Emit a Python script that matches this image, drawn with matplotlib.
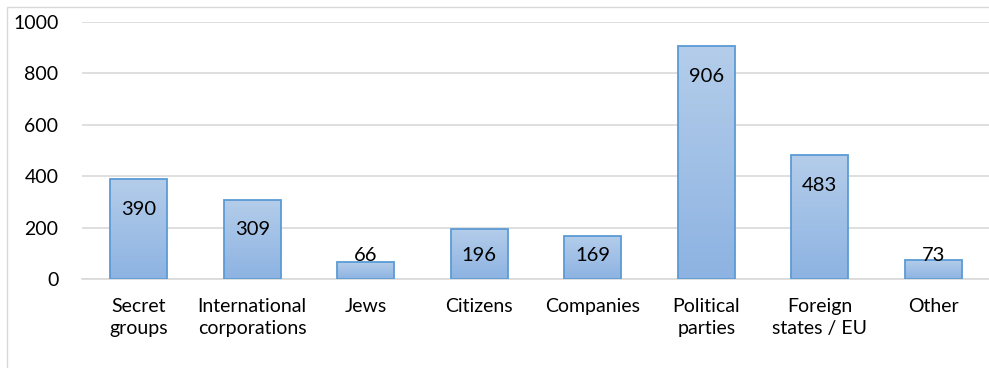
import numpy as np
import matplotlib
matplotlib.use("Agg")
import matplotlib.pyplot as plt
import matplotlib.patches as patches
from matplotlib.colors import LinearSegmentedColormap

# categories and counts
categories = ["Secret\ngroups", "International\ncorporations", "Jews", "Citizens",
              "Companies", "Political\nparties", "Foreign\nstates / EU", "Other"]
counts = [390, 309, 66, 196, 169, 906, 483, 73]
yticks = [0, 200, 400, 600, 800, 1000]

plt.rcParams['font.family'] = ['Lato', 'DejaVu Sans']

W, H = 989, 368
fig = plt.figure(figsize=(W / 100, H / 100), dpi=100)
ax = fig.add_axes([82 / W, 1 - 279 / H, 908 / W, 257 / H])

x = np.arange(len(categories))
bars = ax.bar(x, counts, width=0.5, color='none', edgecolor='#5b9bd5', linewidth=1.3, zorder=3)

# vertical gradient fill for each bar, light on top
grad = np.linspace(0, 1, 256).reshape(-1, 1)
cmap = LinearSegmentedColormap.from_list('bar', ['#8db3e2', '#b4cdea'])
for b in bars:
    x0, y0 = b.get_x(), b.get_y()
    w, h = b.get_width(), b.get_height()
    im = ax.imshow(grad, cmap=cmap, aspect='auto', origin='lower',
                   extent=[x0, x0 + w, y0, y0 + h], zorder=2)
    im.set_clip_path(b)

# labels sit inside the bar top, but never lower than a fixed floor
for xi, v in zip(x, counts):
    ty = max(v - 85, 125)
    ax.text(xi, ty, str(v), ha='center', va='top', fontsize=14.5, color='black', zorder=4)

ax.set_xlim(-0.5, len(categories) - 0.5)
ax.set_ylim(0, 1000)
ax.set_yticks(yticks)
ax.set_xticks(x)
ax.set_xticklabels(categories, fontsize=14, linespacing=1.3)
ax.tick_params(axis='y', labelsize=14, length=0, pad=17)
ax.tick_params(axis='x', length=0, pad=14)
ax.grid(axis='y', color='#d9d9d9', linewidth=1.2, zorder=0)
for s in ['top', 'right', 'left']:
    ax.spines[s].set_visible(False)
ax.spines['bottom'].set_color('#d9d9d9')
ax.spines['bottom'].set_linewidth(1.2)

# chart frame
frame = patches.Rectangle((6.5 / W, -0.1), 1.1, 1 - 7.5 / H + 0.1, transform=fig.transFigure,
                          fill=False, edgecolor='#d9d9d9', linewidth=1.0)
fig.patches.append(frame)

fig.savefig('out.png', dpi=100)
